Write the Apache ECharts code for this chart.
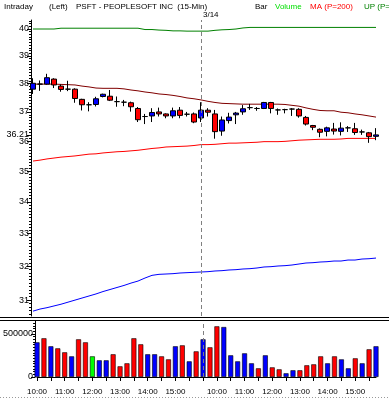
<!DOCTYPE html>
<html><head><meta charset="utf-8">
<script src="https://cdn.jsdelivr.net/npm/echarts@6/dist/echarts.min.js"></script>
<style>html,body{margin:0;padding:0;background:#fff}#c{width:389px;height:398px}</style>
</head><body><div id="c"></div>
<script>
// ---- data ----
const times = ['10:00','10:15','10:30','10:45','11:00','11:15','11:30','11:45','12:00','12:15','12:30','12:45',
  '13:00','13:15','13:30','13:45','14:00','14:15','14:30','14:45','15:00','15:15','15:30','15:45',
  '3/14 09:30','09:45','10:00 ','10:15 ','10:30 ','10:45 ','11:00 ','11:15 ','11:30 ','11:45 ','12:00 ','12:15 ','12:30 ','12:45 ',
  '13:00 ','13:15 ','13:30 ','13:45 ','14:00 ','14:15 ','14:30 ','14:45 ','15:00 ','15:15 ','15:30 ','15:45 '];
const open  = [37.80,37.98,37.98,38.16,37.91,37.80,37.80,37.44,37.25,37.26,37.54,37.55,37.36,37.34,37.32,37.12,36.84,36.86,37.00,36.93,36.86,37.06,36.92,36.93,
  36.79,37.06,36.93,36.34,36.70,36.90,37.00,37.15,37.12,37.12,37.33,37.07,37.08,37.10,37.09,36.81,36.53,36.40,36.33,36.41,36.33,36.45,36.42,36.31,36.28,36.16];
const close = [38.01,37.98,38.21,37.95,37.79,37.80,37.47,37.25,37.25,37.46,37.62,37.41,37.36,37.34,37.18,36.73,36.84,36.98,36.93,36.86,37.04,36.88,36.92,36.65,
  37.06,36.99,36.32,36.72,36.82,36.96,37.11,37.15,37.12,37.33,37.12,37.07,37.08,37.10,36.86,36.58,36.47,36.30,36.45,36.34,36.44,36.45,36.29,36.31,36.15,36.21];
const low   = [37.63,37.74,37.96,37.84,37.71,37.73,37.32,37.05,37.02,37.19,37.51,37.38,37.18,37.20,37.01,36.65,36.58,36.65,36.84,36.78,36.78,36.78,36.84,36.61,
  36.65,36.84,36.08,36.18,36.60,36.58,36.90,37.07,37.04,37.10,36.95,36.90,36.95,36.86,36.80,36.53,36.37,36.13,36.16,36.22,36.19,36.31,36.21,36.21,35.94,36.03];
const high  = [38.19,38.11,38.35,38.19,37.97,38.10,37.83,37.46,37.34,37.53,37.64,37.77,37.54,37.42,37.36,37.17,36.93,37.13,37.15,36.95,37.15,37.17,37.00,36.98,
  37.34,37.13,37.07,36.84,36.97,37.00,37.24,37.28,37.17,37.35,37.35,37.12,37.11,37.13,37.13,36.86,36.55,36.43,36.49,36.62,36.64,36.51,36.62,36.39,36.31,36.44];
const volume = [403000,450000,357000,333000,287000,240000,438000,403000,240000,194000,194000,264000,124000,159000,450000,380000,264000,264000,240000,205000,357000,368000,182000,298000,
  438000,345000,589000,581000,252000,182000,275000,159000,101000,252000,112000,89000,43000,78000,78000,136000,147000,240000,159000,240000,205000,101000,217000,159000,322000,357000];
const upBand = [40.00,40.00,40.00,40.00,40.03,40.03,40.03,40.03,40.03,40.03,40.03,40.03,40.03,40.03,40.03,40.03,39.98,39.98,39.96,39.95,39.93,39.93,39.92,39.92,
  39.92,39.92,39.95,39.97,39.98,40.00,40.04,40.06,40.06,40.06,40.06,40.06,40.06,40.06,40.06,40.06,40.06,40.06,40.06,40.06,40.06,40.06,40.06,40.06,40.06,40.06];
const maLine = [37.98,37.98,37.98,37.98,37.97,37.96,37.95,37.91,37.88,37.84,37.83,37.83,37.83,37.81,37.77,37.74,37.70,37.67,37.63,37.61,37.58,37.54,37.49,37.46,
  37.42,37.37,37.33,37.30,37.29,37.28,37.27,37.27,37.27,37.27,37.27,37.27,37.26,37.23,37.20,37.14,37.09,37.05,37.04,37.04,36.99,36.97,36.93,36.90,36.86,36.82];
const lowBand = [35.33,35.36,35.40,35.43,35.46,35.48,35.50,35.53,35.56,35.57,35.60,35.62,35.64,35.65,35.67,35.69,35.72,35.75,35.77,35.80,35.81,35.82,35.83,35.85,
  35.88,35.88,35.89,35.91,35.93,35.93,35.94,35.95,35.96,35.98,35.98,35.98,35.99,36.01,36.03,36.04,36.05,36.06,36.06,36.06,36.07,36.09,36.09,36.09,36.09,36.09];
const blueLine = [30.68,30.74,30.78,30.83,30.88,30.94,31.00,31.06,31.12,31.18,31.25,31.31,31.37,31.43,31.50,31.56,31.65,31.73,31.76,31.77,31.78,31.80,31.81,31.82,
  31.83,31.84,31.86,31.87,31.89,31.90,31.92,31.93,31.95,31.98,31.99,32.01,32.02,32.04,32.07,32.10,32.11,32.13,32.14,32.16,32.16,32.19,32.19,32.22,32.23,32.25];
const priceTicks = [31,32,33,34,35,36,37,38,39,40];
const volumeTicks = [0,500000];
const dayBreak = '3/14 09:30';

// ---- chart ----
const lastClose = close[close.length - 1];
const minorPrice = [];
for (let v = 30.6; v <= 40.31; v += 0.1) minorPrice.push(Math.round(v * 10) / 10);
const minorVol = [];
for (let v = 0; v <= 650000; v += 31250) minorVol.push(v);

const volData = volume.map((v, i) => {
  const prev = i === 0 ? open[0] : close[i - 1];
  const c = close[i] > prev ? '#0000ff' : (close[i] < prev ? '#ff0000' : '#00ff00');
  return { value: v, itemStyle: { color: c } };
});

const FONT = 'Liberation Sans';
const pMin = 30.54, pMax = 40.34;
const chart = echarts.init(document.getElementById('c'), null, { renderer: 'canvas' });
const dashed = {
  silent: true, symbol: ['none', 'none'], label: { show: false },
  lineStyle: { color: '#808080', type: [4, 3], width: 1 },
  data: [{ xAxis: dayBreak }], animation: false
};
const lineS = (name, data, color) => ({
  name, type: 'line', xAxisIndex: 0, yAxisIndex: 0, data, showSymbol: false, symbol: 'none',
  lineStyle: { color, width: 1 }, itemStyle: { color }, animation: false, z: 3
});
chart.setOption({
  animation: false,
  backgroundColor: '#fff',
  textStyle: { fontFamily: FONT },
  grid: [
    { left: 33, right: 13, top: 20, height: 296 },
    { left: 33, right: 13, top: 321, height: 56 }
  ],
  xAxis: [
    { type: 'category', gridIndex: 0, data: times, boundaryGap: false,
      axisLine: { show: false }, axisTick: { show: false }, axisLabel: { show: false }, splitLine: { show: false } },
    { type: 'category', gridIndex: 1, data: times, boundaryGap: false,
      axisLine: { show: true, onZero: false, lineStyle: { color: '#000', width: 1 } },
      axisTick: { show: true, interval: 1, length: 4, lineStyle: { color: '#000' } },
      axisLabel: { interval: (i, v) => v.trim().endsWith(':00'), formatter: v => v.trim(),
        fontSize: 8, color: '#000', fontFamily: FONT, margin: 11 },
      splitLine: { show: false } }
  ],
  yAxis: [
    { type: 'log', logBase: 10, gridIndex: 0, min: pMin, max: pMax, position: 'left', offset: 2,
      axisLine: { show: true, lineStyle: { color: '#000' } },
      axisTick: { show: true, length: 4, customValues: priceTicks.concat([lastClose]), lineStyle: { color: '#000' } },
      axisLabel: { customValues: priceTicks.concat([lastClose]), fontSize: 9, color: '#000', fontFamily: FONT, margin: 2,
        formatter: v => (Math.abs(v - lastClose) < 1e-9 ? lastClose.toFixed(2) : String(Math.round(v))) },
      splitLine: { show: false } },
    { type: 'log', logBase: 10, gridIndex: 0, min: pMin, max: pMax, position: 'left', offset: 2,
      axisLine: { show: false },
      axisTick: { show: true, length: 2, customValues: minorPrice, lineStyle: { color: '#000' } },
      axisLabel: { show: false }, splitLine: { show: false } },
    { type: 'value', gridIndex: 1, min: 0, max: 651000, position: 'left', offset: 2,
      axisLine: { show: true, lineStyle: { color: '#000' } },
      axisTick: { show: true, length: 4, customValues: volumeTicks, lineStyle: { color: '#000' } },
      axisLabel: { customValues: volumeTicks, fontSize: 9, color: '#000', fontFamily: FONT, margin: 2,
        formatter: v => String(v) },
      splitLine: { show: false } },
    { type: 'value', gridIndex: 1, min: 0, max: 651000, position: 'left', offset: 2,
      axisLine: { show: false },
      axisTick: { show: true, length: 2, customValues: minorVol, lineStyle: { color: '#000' } },
      axisLabel: { show: false }, splitLine: { show: false } }
  ],
  series: [
    lineS('UP', upBand, '#008000'),
    lineS('MA', maLine, '#800000'),
    lineS('LOW', lowBand, '#ff0000'),
    lineS('BL', blueLine, '#0000ff'),
    { name: 'Bar', type: 'candlestick', xAxisIndex: 0, yAxisIndex: 0, clip: false, barWidth: 5, z: 4,
      data: times.map((_, i) => [open[i], close[i], low[i], high[i]]),
      itemStyle: { color: '#0000ff', color0: '#ff0000', borderColor: '#000', borderColor0: '#000', borderColorDoji: '#000', borderWidth: 1 },
      markLine: dashed },
    { name: 'Volume', type: 'bar', xAxisIndex: 1, yAxisIndex: 2, clip: false, barWidth: 5,
      data: volData, itemStyle: { borderColor: '#000', borderWidth: 0.6 },
      markLine: dashed }
  ],
  graphic: [
    { type: 'text', left: 4, top: 3, style: { text: 'Intraday', font: '8px ' + FONT, fill: '#000' } },
    { type: 'text', left: 49, top: 3, style: { text: '(Left)', font: '8px ' + FONT, fill: '#000' } },
    { type: 'text', left: 76, top: 3, style: { text: 'PSFT - PEOPLESOFT INC  (15-Min)', font: '8px ' + FONT, fill: '#000' } },
    { type: 'text', left: 255, top: 3, style: { text: 'Bar', font: '8px ' + FONT, fill: '#000' } },
    { type: 'text', left: 275, top: 3, style: { text: 'Volume', font: '8px ' + FONT, fill: '#00e000' } },
    { type: 'text', left: 310, top: 3, style: { text: 'MA (P=200)', font: '8px ' + FONT, fill: '#ff0000' } },
    { type: 'text', left: 364, top: 3, style: { text: 'UP (P=200)', font: '8px ' + FONT, fill: '#008000' } },
    { type: 'text', left: 203, top: 11, style: { text: '3/14', font: '8px ' + FONT, fill: '#000' } },
    { type: 'line', shape: { x1: 0, y1: 317.5, x2: 389, y2: 317.5 }, style: { stroke: '#000', lineWidth: 1 } },
    { type: 'line', shape: { x1: 0, y1: 320.5, x2: 389, y2: 320.5 }, style: { stroke: '#000', lineWidth: 1 } },
    { type: 'line', shape: { x1: 0, y1: 397.5, x2: 389, y2: 397.5 }, style: { stroke: '#999', lineWidth: 1, lineDash: [1, 2] } }
  ]
});
</script></body></html>
